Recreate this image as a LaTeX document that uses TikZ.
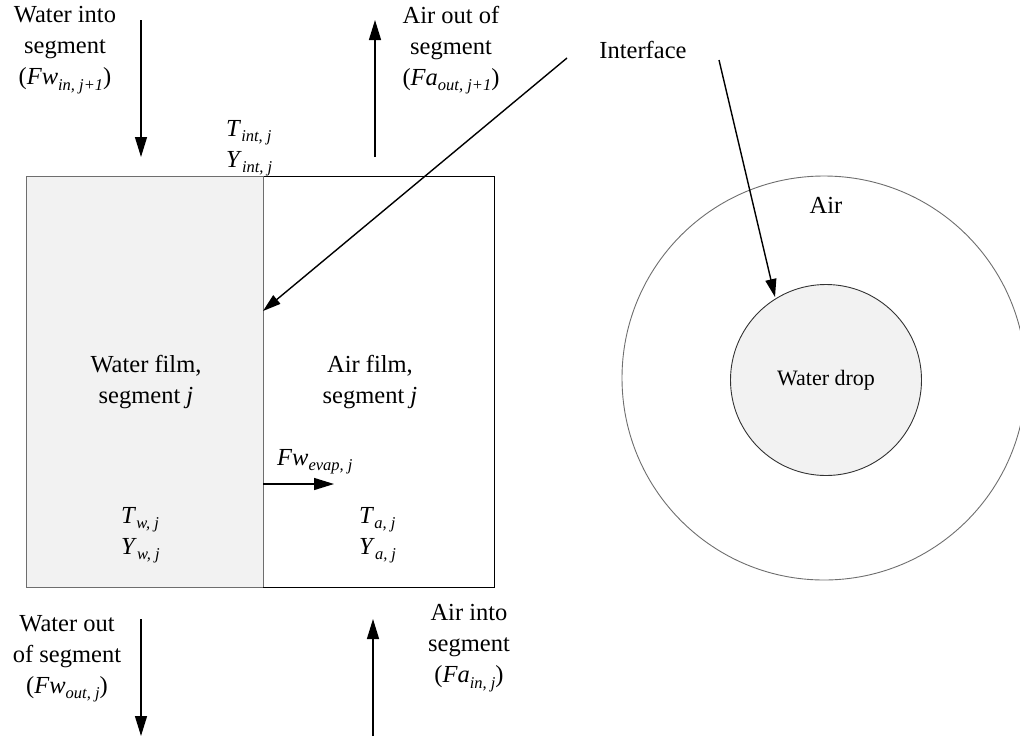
\documentclass[tikz,border=0pt]{standalone}
\usepackage{fontspec}
\setmainfont{Liberation Serif}
\usetikzlibrary{arrows.meta}
\newcommand{\sbs}[1]{\raisebox{-0.22em}{\fontsize{16.5}{16.5}\selectfont\itshape #1}}
\definecolor{waterfill}{RGB}{242,242,242}
\definecolor{edgegray}{RGB}{110,110,110}
\tikzset{
  lbl/.style={inner sep=0pt, align=center, font=\fontsize{24.5}{31}\selectfont},
  small/.style={inner sep=0pt, align=center, font=\fontsize{22}{26}\selectfont},
  flow/.style={line width=1.4pt, -{Triangle[length=20pt,width=12pt]}},
  pointer/.style={line width=1.4pt, -{Triangle[length=18pt,width=11pt]}}
}
\begin{document}
\begin{tikzpicture}[x=1pt,y=-1pt]
\useasboundingbox (0,0) rectangle (1020,737);
% segment box
\node[draw=edgegray, line width=0.9pt, fill=waterfill, minimum width=237pt, minimum height=411pt, inner sep=0pt] (water) at (144.5,381.5) {};
\node[draw=black, line width=0.9pt, minimum width=231pt, minimum height=411pt, inner sep=0pt] (air) at (378.5,381.5) {};
\draw[edgegray, line width=1pt] (water.north east) -- (water.south east);
% labels inside box
\node[lbl] (wfilm) at (146,382) {Water film,\\segment \textit{j}};
\node[lbl] (afilm) at (370,382) {Air film,\\segment \textit{j}};
\node[lbl, align=left, anchor=west] (tw) at (121,535) {\textit{T}\sbs{w, j}\\\textit{Y}\sbs{w, j}};
\node[lbl, align=left, anchor=west] (ta) at (359,535) {\textit{T}\sbs{a, j}\\\textit{Y}\sbs{a, j}};
\node[lbl, align=left, anchor=west] (tint) at (226,148) {\textit{T}\sbs{int, j}\\\textit{Y}\sbs{int, j}};
\node[lbl, anchor=west] (evap) at (277,462) {\textit{Fw}\sbs{evap, j}};
% flow labels
\node[lbl] (win) at (65,50) {Water into\\segment\\(\textit{Fw}\sbs{in, j+1})};
\node[lbl] (aout) at (451,50) {Air out of\\segment\\(\textit{Fa}\sbs{out, j+1})};
\node[lbl] (wout) at (67,659) {Water out\\of segment\\(\textit{Fw}\sbs{out, j})};
\node[lbl] (ain) at (469,648) {Air into\\segment\\(\textit{Fa}\sbs{in, j})};
\node[lbl] (iface) at (643,50) {Interface};
% flow arrows
\coordinate (winA) at (141,20);  \coordinate (winB) at (141,157);
\coordinate (aoutA) at (375,157); \coordinate (aoutB) at (375,20);
\coordinate (woutA) at (141,619); \coordinate (woutB) at (141,736);
\coordinate (ainA) at (373,736); \coordinate (ainB) at (373,619);
\draw[flow] (winA) -- (winB);
\draw[flow] (aoutA) -- (aoutB);
\draw[flow] (woutA) -- (woutB);
\draw[flow] (ainA) -- (ainB);
\coordinate (evapA) at (263,484); \coordinate (evapB) at (334,484);
\draw[flow] (evapA) -- (evapB);
% droplet
\node[circle, draw=edgegray, line width=0.9pt, minimum size=404pt, inner sep=0pt] (outer) at (824,378) {};
\node[circle, draw=black!80, line width=0.9pt, fill=waterfill, minimum size=191pt, inner sep=0pt] (drop) at (826,380) {};
\node[small] (droplbl) at (826,380) {Water drop};
\node[lbl] (airlbl) at (826,205) {Air};
% interface pointers
\coordinate (p1A) at (567,58); \coordinate (p1B) at (263,311);
\coordinate (p2A) at (719,60); \coordinate (p2B) at (775,297);
\draw[pointer] (p1A) -- (p1B);
\draw[pointer] (p2A) -- (p2B);
\end{tikzpicture}
\end{document}
